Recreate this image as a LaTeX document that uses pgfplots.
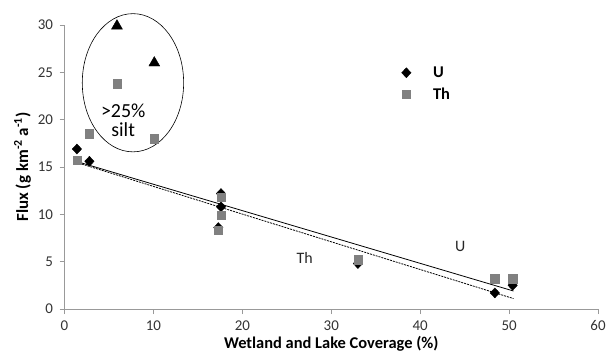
\documentclass[border=0pt]{standalone}
\usepackage{pgfplots}
\pgfplotsset{compat=1.18}
\usepackage{fontspec}
\setmainfont{Carlito}
\usetikzlibrary{plotmarks}
\begin{document}
\begin{tikzpicture}
\begin{axis}[
  scale only axis, width=533.5bp, height=284bp,
  xmin=0, xmax=60, ymin=0, ymax=30,
  xtick={0,10,...,60}, ytick={0,5,...,30},
  axis x line*=bottom, axis y line*=left,
  axis line style={draw=gray!80, line width=0.6pt, -},
  tick style={draw=gray!80, line width=0.6pt},
  tick align=outside, major tick length=5bp,
  /pgf/number format/assume math mode=true,
  ticklabel style={font=\fontsize{15}{17}\selectfont, text=black!80},
  xticklabel style={yshift=-3bp},
  yticklabel style={xshift=-3bp},
  xlabel={\textbf{Wetland and Lake Coverage (\%)}},
  ylabel={\textbf{Flux (g km\textsuperscript{-2} a\textsuperscript{-1})}},
  xlabel style={font=\fontsize{16.5}{18}\selectfont, yshift=1bp},
  ylabel style={font=\fontsize{17}{18}\selectfont, yshift=0bp},
  clip=false,
  legend style={at={(0.626,0.868)}, anchor=north west, draw=none, fill=none,
    font=\fontsize{16.5}{18}\selectfont\bfseries, row sep=5bp,
    /tikz/column 1/.style={column sep=20bp}},
  legend cell align=left,
]
\coordinate (ll) at (rel axis cs:0,0);
\coordinate (ur) at (rel axis cs:1,1);
% trend lines
\addplot[black, line width=0.8pt, forget plot] coordinates {(1.3,15.6) (50.5,1.9)};
\addplot[black, line width=0.8pt, dash pattern=on 2pt off 1pt, forget plot] coordinates {(1.3,15.5) (50.5,1.1)};
% U
\addplot[only marks, mark=diamond*, mark size=5bp, mark options={fill=black, draw=black, xscale=1.25}] coordinates {
(1.4,16.9) (2.8,15.6) (17.6,12.2) (17.6,10.8) (17.3,8.6) (33.0,4.8) (48.4,1.7) (50.4,2.5)};
\addlegendentry{U}
% Th
\addplot[only marks, mark=square*, mark size=4.2bp, mark options={fill=gray, draw=gray}] coordinates {
(1.4,15.7) (2.8,18.5) (5.9,23.8) (10.1,18.0) (17.6,11.8) (17.6,9.9) (17.3,8.3) (33.0,5.2) (48.4,3.2) (50.4,3.2)};
\addlegendentry{Th}
% silt U
\addplot[only marks, mark=triangle*, mark size=6.3bp, mark options={fill=black, draw=black}, forget plot] coordinates {(5.9,29.9) (10.1,26.0)};
\draw[black, line width=0.6pt] (axis cs:7.7,23.9) ellipse [x radius=5.7, y radius=7.3];
\node[font=\fontsize{20}{22}\selectfont, align=center] at (axis cs:6.6,19.9) {>25\%\\[-3pt]silt};
\node[font=\fontsize{16}{17}\selectfont, text=black!85] at (axis cs:27,5.4) {Th};
\node[font=\fontsize{16}{17}\selectfont, text=black!85] at (axis cs:44.5,6.6) {U};
\end{axis}
\pgfresetboundingbox
\path ([shift={(-64.5bp,-54bp)}]ll) rectangle ([shift={(8bp,25bp)}]ur);
\end{tikzpicture}
\end{document}
